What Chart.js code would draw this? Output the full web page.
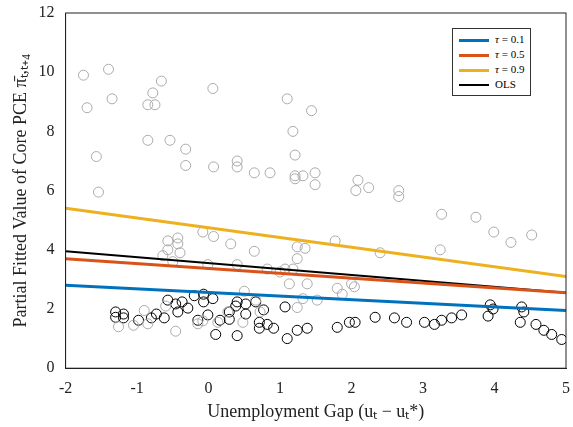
<!DOCTYPE html>
<html><head><meta charset="utf-8">
<script src="https://cdn.jsdelivr.net/npm/chart.js@4/dist/chart.umd.min.js"></script>
<style>
body{margin:0;background:#fff;}
#wrap{position:relative;width:573px;height:427px;}
#legend{position:absolute;left:452px;top:28px;border:1px solid #333;background:#fff;padding:3px 6px;font:11px "Liberation Serif",serif;line-height:15px;}
#legend span{display:inline-block;width:30px;height:3px;vertical-align:middle;margin-right:6px;}
</style></head><body>
<div id="wrap"><canvas id="c" width="573" height="427"></canvas>
<div id="legend">
<div><span style="background:#0072BD"></span><i>τ</i> = 0.1</div>
<div><span style="background:#D95319"></span><i>τ</i> = 0.5</div>
<div><span style="background:#EDB120"></span><i>τ</i> = 0.9</div>
<div><span style="background:#000;height:2px"></span>OLS</div>
</div></div>
<script>
const lineX = [-2, 5];
const q10 = [2.8, 1.95];
const q50 = [3.7, 2.55];
const q90 = [5.4, 3.1];
const ols = [3.95, 2.55];

const grayX = [-1.75,-1.7,-1.4,-1.35,-1.57,-1.54,-0.85,-0.75,-0.78,-0.66,-0.54,-0.85,-0.32,-0.32,0.06,0.07,0.4,0.4,0.64,0.86,1.1,1.18,1.21,1.21,1.21,1.44,1.49,1.49,1.32,2.09,2.06,2.24,2.66,2.66,3.26,3.74,3.99,4.23,4.52,3.24,2.4,1.77,1.35,1.24,1.24,1.07,1.18,-0.08,0.07,-0.43,-0.43,-0.57,-0.57,-0.64,-0.5,-0.4,0.31,0.64,0.4,-0.01,0.82,1.0,1.38,1.13,1.8,2.0,2.04,1.52,1.87,-1.26,-1.05,-0.85,-0.46,-0.15,-0.08,0.13,0.27,0.48,0.72,0.66,1.24,1.32,-0.9,-0.6,0.5];
const grayY = [9.9,8.8,10.1,9.1,7.15,5.95,8.9,8.9,9.3,9.7,7.7,7.7,7.4,6.85,9.45,6.8,7.0,6.8,6.6,6.6,9.1,8.0,7.2,6.5,6.4,8.7,6.6,6.2,6.5,6.35,6.0,6.1,6.0,5.8,5.2,5.1,4.6,4.25,4.5,4.0,3.9,4.3,4.05,4.1,3.7,3.35,3.35,4.6,4.45,4.4,4.2,4.3,4.0,3.8,3.6,3.9,4.2,3.95,3.5,3.5,3.35,3.25,2.85,2.85,2.7,2.85,2.75,2.3,2.5,1.4,1.45,1.5,1.25,1.5,1.6,1.55,1.9,1.55,1.9,2.3,2.05,2.35,1.95,2.1,2.6];
const blackX = [-1.3,-1.3,-1.19,-1.19,-0.98,-0.8,-0.57,-0.46,-0.37,-0.43,-0.29,-0.2,-0.07,-0.07,0.06,-0.15,-0.01,0.1,0.16,0.29,0.29,0.4,0.38,0.52,0.52,0.66,0.71,0.77,0.71,0.82,0.91,1.07,1.1,1.24,1.38,1.8,1.97,2.05,2.33,2.6,2.77,3.02,3.16,3.26,3.4,3.54,3.91,3.94,3.98,4.38,4.41,4.36,4.58,4.69,4.8,4.94,0.4,-0.62,-0.73];
const blackY = [1.9,1.72,1.83,1.7,1.62,1.7,2.3,2.17,2.24,1.9,2.03,2.45,2.5,2.24,2.35,1.62,1.8,1.14,1.62,1.65,1.9,2.24,2.1,2.17,1.83,2.24,1.55,1.97,1.35,1.48,1.35,2.07,1.0,1.28,1.35,1.38,1.55,1.55,1.72,1.7,1.55,1.55,1.48,1.62,1.7,1.8,1.76,2.14,2.0,2.07,1.9,1.55,1.48,1.28,1.14,0.97,1.1,1.7,1.83];

const pts = (xs, ys) => xs.map((x, i) => ({x: x, y: ys[i]}));
const scatter = (xs, ys, color) => ({type: 'scatter', data: pts(xs, ys), borderColor: color, backgroundColor: 'transparent', borderWidth: 1, pointRadius: 5, order: 2});
const line = (ys, color, w) => ({type: 'line', data: pts(lineX, ys), borderColor: color, borderWidth: w, pointRadius: 0, order: 1});

const frame = {
  id: 'frame',
  afterDraw(chart) {
    const a = chart.chartArea, c = chart.ctx;
    c.save(); c.strokeStyle = '#222'; c.lineWidth = 1;
    c.strokeRect(a.left, a.top, a.right - a.left, a.bottom - a.top);
    c.restore();
  }
};

const font = {family: '"Liberation Serif", serif', size: 16};
new Chart(document.getElementById('c').getContext('2d'), {
  data: {datasets: [
    scatter(grayX, grayY, '#aaaaaa'),
    scatter(blackX, blackY, '#000000'),
    line(q10, '#0072BD', 3),
    line(q50, '#D95319', 3),
    line(q90, '#EDB120', 3),
    line(ols, '#000000', 2)
  ]},
  options: {
    responsive: false, animation: false,
    layout: {padding: {top: 13, right: 2, left: 6}},
    plugins: {legend: {display: false}, tooltip: {enabled: false}},
    scales: {
      x: {type: 'linear', min: -2, max: 5, grid: {display: false},
          border: {color: '#222'},
          ticks: {stepSize: 1, color: '#222', font: font},
          title: {display: true, text: 'Unemployment Gap (uₜ − uₜ*)', color: '#222', font: {family: font.family, size: 18}, padding: {top: 0}}},
      y: {min: 0, max: 12, grid: {display: false},
          border: {color: '#222'},
          ticks: {stepSize: 2, color: '#222', font: font},
          title: {display: true, text: 'Partial Fitted Value of Core PCE π̄ₜ,ₜ₊₄', color: '#222', font: {family: font.family, size: 18}}}
    }
  },
  plugins: [frame]
});
</script></body></html>
